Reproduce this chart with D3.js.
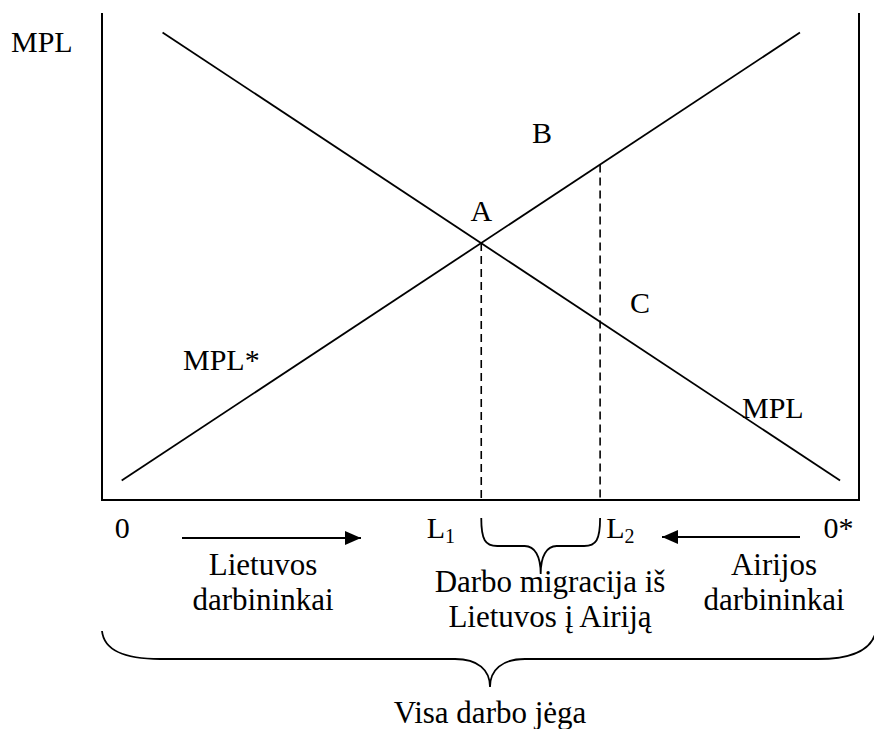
<!DOCTYPE html>
<html>
<head>
<meta charset="utf-8">
<script src="https://cdn.jsdelivr.net/npm/d3@7"></script>
<style>
  body { margin: 0; background: #fff; }
  text { font-family: "Liberation Serif", "Times New Roman", serif; fill: #000; }
</style>
</head>
<body>
<script>
// labour (x) and marginal product (y), both in arbitrary 0..100 units
const xDomain = [0, 100];
const yDomain = [0, 100];

const mpl = [[8, 96], [97.5, 4]];          // Lithuania, falling left to right
const mplStar = [[2.6, 4], [92.2, 96]];    // Ireland, measured from 0*
const lPoints = [50.1, 65.8];              // L1, L2

const tickLabels = ['0', 'L', 'L', '0*'];
const tickSubs = ['', '1', '2', ''];
const tickValues = [1.7, 42.9, 66.6, 95.3];

const svg = d3.select('body').append('svg').attr('width', 874).attr('height', 729);

const x = d3.scaleLinear().domain(xDomain).range([102, 859]);
const y = d3.scaleLinear().domain(yDomain).range([500, 13]);

// value of a straight curve at position v
const at = (seg, v) => seg[0][1] + (seg[1][1] - seg[0][1]) * (v - seg[0][0]) / (seg[1][0] - seg[0][0]);

svg.append('defs').append('marker')
  .attr('id', 'head')
  .attr('markerUnits', 'userSpaceOnUse')
  .attr('viewBox', '0 0 16 14')
  .attr('refX', 16).attr('refY', 7)
  .attr('markerWidth', 16).attr('markerHeight', 14)
  .attr('orient', 'auto')
  .append('path').attr('d', 'M0,0 L16,7 L0,14 Z').attr('fill', '#000');

// frame: two vertical axes and the floor
svg.append('line')
  .attr('x1', x(0)).attr('x2', x(0)).attr('y1', y(100)).attr('y2', y(0) + 1)
  .attr('stroke', '#000').attr('stroke-width', 2);
svg.append('line')
  .attr('x1', x(100)).attr('x2', x(100)).attr('y1', y(100)).attr('y2', y(0) + 1)
  .attr('stroke', '#000').attr('stroke-width', 2);
svg.append('line')
  .attr('x1', x(0) - 1).attr('x2', x(100) + 1).attr('y1', y(0)).attr('y2', y(0))
  .attr('stroke', '#000').attr('stroke-width', 2);

// curves
const line = d3.line().x(d => x(d[0])).y(d => y(d[1]));
svg.selectAll('path.curve')
  .data([mpl, mplStar])
  .enter().append('path')
  .attr('class', 'curve')
  .attr('d', line)
  .attr('fill', 'none')
  .attr('stroke', '#000')
  .attr('stroke-width', 1.8);

// dashed drops: L1 from A on both curves, L2 from B on MPL*
svg.selectAll('line.drop')
  .data(lPoints)
  .enter().append('line')
  .attr('class', 'drop')
  .attr('x1', d => x(d)).attr('x2', d => x(d))
  .attr('y1', d => y(at(mplStar, d)))
  .attr('y2', y(0))
  .attr('stroke', '#000')
  .attr('stroke-width', 1.6)
  .attr('stroke-dasharray', '8,5');

const label = (tx, ty, s, anchor) => svg.append('text')
  .attr('x', tx).attr('y', ty)
  .attr('font-size', '30px')
  .attr('text-anchor', anchor || 'start')
  .text(s);

label(11, 52, 'MPL');
label(x(lPoints[0]), y(at(mpl, lPoints[0])) - 22, 'A', 'middle');
label(x(lPoints[1]) - 68, y(at(mplStar, lPoints[1])) - 21, 'B');
label(x(lPoints[1]) + 30, y(at(mpl, lPoints[1])) - 9, 'C');
label(183, 370, 'MPL*');
label(742, 418, 'MPL');

// floor labels
const ticks = svg.selectAll('text.tick')
  .data(tickLabels)
  .enter().append('text')
  .attr('class', 'tick')
  .attr('x', (d, i) => x(tickValues[i]))
  .attr('y', 538)
  .attr('font-size', '30px');
ticks.append('tspan').text(d => d);
ticks.append('tspan')
  .attr('font-size', '20px')
  .attr('dy', 5)
  .text((d, i) => tickSubs[i]);

// direction arrows
svg.append('line')
  .attr('x1', 182).attr('x2', 361).attr('y1', 538).attr('y2', 538)
  .attr('stroke', '#000').attr('stroke-width', 2)
  .attr('marker-end', 'url(#head)');
svg.append('line')
  .attr('x1', 800).attr('x2', 662).attr('y1', 537).attr('y2', 537)
  .attr('stroke', '#000').attr('stroke-width', 2)
  .attr('marker-end', 'url(#head)');

const block = (cx, y0, lines) => {
  const t = svg.append('text')
    .attr('font-size', '31px')
    .attr('text-anchor', 'middle');
  lines.forEach((s, i) => t.append('tspan').attr('x', cx).attr('y', y0 + i * 35).text(s));
};
block(263, 575, ['Lietuvos', 'darbininkai']);
block(774, 575, ['Airijos', 'darbininkai']);
block(550, 592, ['Darbo migracija iš', 'Lietuvos į Airiją']);
block(490, 723, ['Visa darbo jėga']);

// braces
const xl = x(lPoints[0]), xr = x(lPoints[1]), xm = (xl + xr) / 2;
svg.append('path')
  .attr('d', `M${xl},518 C${xl},540 ${xl + 4},546 ${xl + 16},546 L${xm - 16},546 ` +
    `C${xm - 6},546 ${xm},556 ${xm},574 C${xm},556 ${xm + 6},546 ${xm + 16},546 ` +
    `L${xr - 16},546 C${xr - 4},546 ${xr},540 ${xr},518`)
  .attr('fill', 'none').attr('stroke', '#000').attr('stroke-width', 1.8);

svg.append('path')
  .attr('d', 'M102,631 C104,650 125,659 160,659 L455,659 C478,659 490,670 490,687 ' +
    'C490,670 502,659 525,659 L818,659 C853,659 872,650 876,631')
  .attr('fill', 'none').attr('stroke', '#000').attr('stroke-width', 1.8);
</script>
</body>
</html>
